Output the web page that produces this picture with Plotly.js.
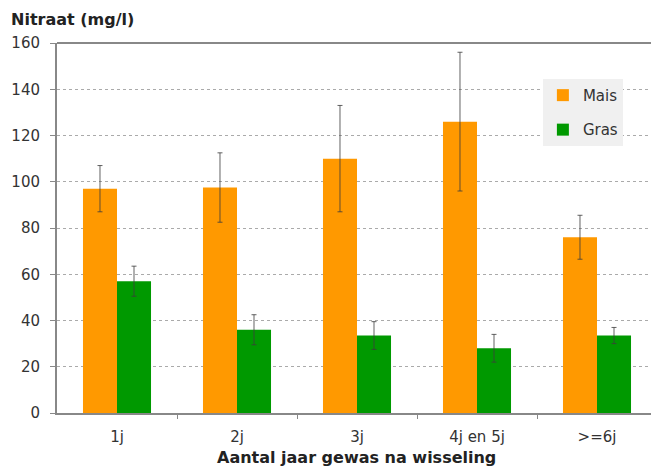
<!DOCTYPE html>
<html>
<head>
<meta charset="utf-8">
<script src="https://cdn.plot.ly/plotly-3.0.1.min.js"></script>
<style>html,body{margin:0;padding:0;background:#fff;overflow:hidden;}#chart{width:651px;height:466px;}</style>
</head>
<body>
<div id="chart"></div>
<script>
const categories = ["1j", "2j", "3j", "4j en 5j", ">=6j"];
const maisValues = [97, 97.5, 110, 126, 76];
const maisErrors = [10, 15, 23, 30, 9.5];
const grasValues = [57, 36, 33.5, 28, 33.5];
const grasErrors = [6.5, 6.5, 6, 6, 3.5];
const seriesNames = ["Mais", "Gras"];
const yTitle = "Nitraat (mg/l)";
const xTitle = "Aantal jaar gewas na wisseling";

const xIndex = categories.map((c, i) => i);
const boundaries = categories.slice(1).map((c, i) => i + 0.5);

const errStyle = {type: "data", visible: true, color: "rgba(60,60,60,0.8)", thickness: 1, width: 2.5};

const traces = [
  {type: "bar", name: seriesNames[0], x: xIndex, y: maisValues, legendgroup: "a",
   marker: {color: "#FF9900"}, error_y: Object.assign({array: maisErrors}, errStyle)},
  {type: "bar", name: seriesNames[1], x: xIndex, y: grasValues, legendgroup: "b",
   marker: {color: "#009900"}, error_y: Object.assign({array: grasErrors}, errStyle)}
];

const font = "Verdana, 'DejaVu Sans', sans-serif";
const layout = {
  width: 651, height: 466,
  margin: {l: 57, r: 0, t: 43, b: 53},
  paper_bgcolor: "#fff", plot_bgcolor: "#fff",
  barmode: "group", bargap: 0.433, bargroupgap: 0,
  font: {family: font, size: 15, color: "#333"},
  xaxis: {
    type: "linear", range: [-0.5, 4.45], autorange: false,
    showline: true, linecolor: "#888", linewidth: 2, mirror: false,
    tickmode: "array", tickvals: xIndex, ticktext: categories,
    ticks: "", showgrid: false, zeroline: false, ticklabelstandoff: 9,
    tickfont: {size: 15, color: "#333"},
    minor: {tickmode: "array", tickvals: boundaries, ticks: "outside", ticklen: 4,
            tickcolor: "#888", tickwidth: 1, showgrid: false}
  },
  yaxis: {
    range: [0, 160], autorange: false, dtick: 20,
    showline: true, linecolor: "#888", linewidth: 2, mirror: false,
    ticks: "outside", ticklen: 5, tickcolor: "#888",
    gridcolor: "#aaa", griddash: "dot", gridwidth: 1,
    zeroline: false, ticklabelstandoff: 7,
    tickfont: {size: 15, color: "#333"}
  },
  shapes: [
    {type: "line", xref: "paper", yref: "paper", x0: 0, x1: 1, y0: 1, y1: 1,
     line: {color: "#888", width: 2}}
  ],
  legend: {
    x: 0.818, y: 0.903, xanchor: "left", yanchor: "top",
    bgcolor: "#f0f0f0", borderwidth: 0,
    font: {size: 15, color: "#333"},
    traceorder: "grouped", tracegroupgap: 12,
    itemwidth: 30
  },
  showlegend: true,
  annotations: [
    {text: "<b>" + yTitle + "</b>", xref: "paper", yref: "paper", x: -0.08, y: 1.0,
     xanchor: "left", yanchor: "bottom", yshift: 12, showarrow: false,
     font: {size: 16, color: "#222", family: font}},
    {text: "<b>" + xTitle + "</b>", xref: "paper", yref: "paper", x: 0.505, y: 0,
     xanchor: "center", yanchor: "top", yshift: -33, showarrow: false,
     font: {size: 16, color: "#222", family: font}}
  ]
};

Plotly.newPlot("chart", traces, layout, {displayModeBar: false, staticPlot: true});
</script>
</body>
</html>
